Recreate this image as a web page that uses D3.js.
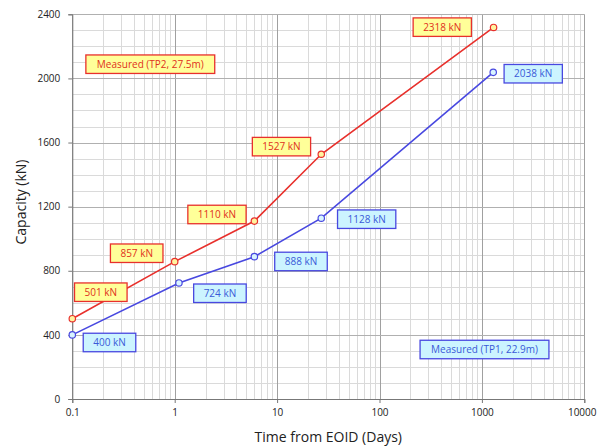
<!DOCTYPE html>
<html><head><meta charset="utf-8">
<script src="https://cdn.jsdelivr.net/npm/d3@7"></script>
<style>body{margin:0;background:#fff}svg{display:block}</style>
</head><body>
<svg id="c" width="597" height="447"></svg>
<script>
const xTicks = [0.1, 1, 10, 100, 1000, 10000];
const xTickLabels = ["0.1", "1", "10", "100", "1000", "10000"];
const yTicks = [0, 400, 800, 1200, 1600, 2000, 2400];
const tp2Days = [0.1, 1, 6, 27, 1300];
const tp2Cap = [501, 857, 1110, 1527, 2318];
const tp2Labels = ["501 kN", "857 kN", "1110 kN", "1527 kN", "2318 kN"];
const tp1Days = [0.1, 1.1, 6, 27, 1290];
const tp1Cap = [400, 724, 888, 1128, 2038];
const tp1Labels = ["400 kN", "724 kN", "888 kN", "1128 kN", "2038 kN"];
const seriesNames = ["Measured (TP2, 27.5m)", "Measured (TP1, 22.9m)"];

// label offsets (layout only)
const tp2Off = [[28.5,-26.5],[-38,-8.4],[-37.4,-6.6],[-39.8,-7.6],[-51.3,-0.3]];
const tp1Off = [[37.2,7.6],[41,10.3],[46.6,4.8],[45.4,1],[40,1.4]];

const svg = d3.select("#c");
const L = 72.3, R = 584.3, T = 14.3, B = 399;
const x = d3.scaleLog().domain([0.1, 10000]).range([L, R]);
const y = d3.scaleLinear().domain([0, 2400]).range([B, T]);
const font = "'Open Sans', 'Liberation Sans', sans-serif";

// minor grid
const minorX = [];
for (let e = -1; e < 4; e++) for (let k = 2; k <= 9; k++) minorX.push(k * Math.pow(10, e));
const minorY = d3.range(100, 2400, 100).filter(v => v % 400 !== 0);
const g = svg.append("g");
g.selectAll(".mx").data(minorX).join("line")
  .attr("x1", d => Math.round(x(d)) + 0.5).attr("x2", d => Math.round(x(d)) + 0.5)
  .attr("y1", T).attr("y2", B).attr("stroke", "#dadada").attr("stroke-width", 1);
g.selectAll(".my").data(minorY).join("line")
  .attr("y1", d => Math.round(y(d)) + 0.5).attr("y2", d => Math.round(y(d)) + 0.5)
  .attr("x1", L).attr("x2", R).attr("stroke", "#dadada").attr("stroke-width", 1);
g.selectAll(".Mx").data(xTicks).join("line")
  .attr("x1", d => Math.round(x(d)) + 0.5).attr("x2", d => Math.round(x(d)) + 0.5)
  .attr("y1", T).attr("y2", B).attr("stroke", "#a0a0a0").attr("stroke-width", 1);
g.selectAll(".My").data(yTicks).join("line")
  .attr("y1", d => Math.round(y(d)) + 0.5).attr("y2", d => Math.round(y(d)) + 0.5)
  .attr("x1", L).attr("x2", R).attr("stroke", "#b0b0b0").attr("stroke-width", 1);

// axes
const xAxis = d3.axisBottom(x).tickValues(xTicks).tickFormat((d, i) => xTickLabels[i]).tickSize(4).tickPadding(6);
const yAxis = d3.axisLeft(y).tickValues(yTicks).tickFormat(d3.format("d")).tickSize(4).tickPadding(8);
const gx = svg.append("g").attr("transform", `translate(0,${B})`).call(xAxis);
const gy = svg.append("g").attr("transform", `translate(${L},0)`).call(yAxis);
[gx, gy].forEach(a => {
  a.select(".domain").attr("stroke", "#777");
  a.selectAll(".tick line").attr("stroke", "#777");
  a.selectAll("text").attr("font-family", font).attr("font-size", 10).attr("fill", "#222");
});
gx.selectAll(".tick text").filter(d => d === 10000).attr("text-anchor", "end").attr("x", 596 - x(10000));

svg.append("text").attr("x", (L + R) / 2).attr("y", 442).attr("text-anchor", "middle")
  .attr("font-family", font).attr("font-size", 14).attr("fill", "#222").text("Time from EOID  (Days)");
svg.append("text").attr("transform", "translate(26,202) rotate(-90)").attr("text-anchor", "middle")
  .attr("font-family", font).attr("font-size", 14).attr("fill", "#222").text("Capacity (kN)");

function box(cx, cy, t, boxFill, stroke, textColor, pad) {
  const grp = svg.append("g");
  const rect = grp.append("rect");
  const tx = grp.append("text").attr("x", cx).attr("y", cy + 3.5).attr("text-anchor", "middle")
    .attr("font-family", font).attr("font-size", 10).attr("fill", textColor).text(t);
  const w = tx.node().getComputedTextLength() + 2 * pad, h = 18.5;
  rect.attr("x", cx - w / 2).attr("y", cy - h / 2)
    .attr("width", w).attr("height", h).attr("fill", boxFill)
    .attr("stroke", stroke).attr("stroke-width", 1.3);
}
function series(days, cap, color, fill, labels, offs, boxFill, textColor) {
  const pts = days.map((d, i) => [x(d), y(cap[i])]);
  svg.append("path").attr("d", d3.line()(pts)).attr("fill", "none")
    .attr("stroke", color).attr("stroke-width", 1.6);
  svg.append("g").selectAll("circle").data(pts).join("circle")
    .attr("cx", d => d[0]).attr("cy", d => d[1]).attr("r", 3.2)
    .attr("fill", fill).attr("stroke", color).attr("stroke-width", 1.2);
  labels.forEach((t, i) => {
    box(pts[i][0] + offs[i][0], pts[i][1] + offs[i][1], t, boxFill, color, textColor, 10);
  });
}

series(tp2Days, tp2Cap, "#e8302c", "#fff3a0", tp2Labels, tp2Off, "#ffff99", "#e03020");
series(tp1Days, tp1Cap, "#4848e0", "#d8f4ff", tp1Labels, tp1Off, "#ccf4ff", "#3a5ad8");

box(150.3, 64.2, seriesNames[0], "#ffff99", "#e8302c", "#e03020", 11);
box(484.5, 349.5, seriesNames[1], "#ccf4ff", "#4848e0", "#3a5ad8", 11);
</script>
</body></html>
